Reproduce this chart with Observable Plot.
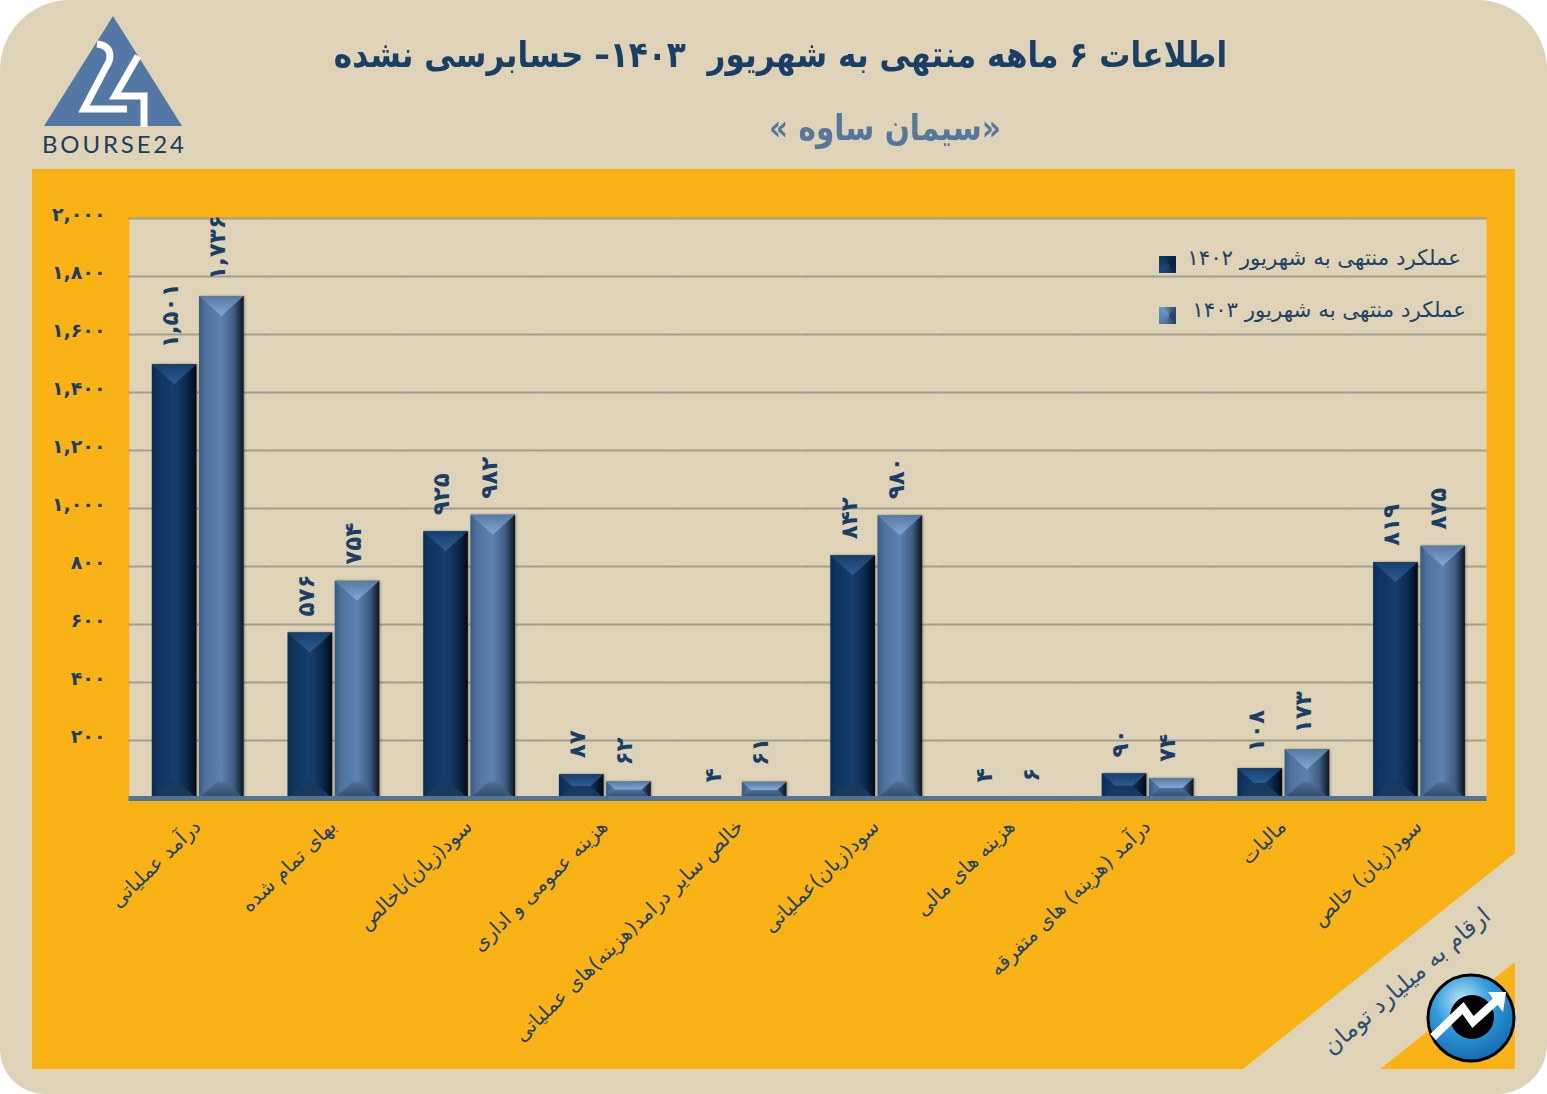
<!DOCTYPE html>
<html lang="fa"><head><meta charset="utf-8">
<script src="https://cdn.jsdelivr.net/npm/d3@7"></script>
<script src="https://cdn.jsdelivr.net/npm/@observablehq/plot@0.6"></script>
<style>
html,body{margin:0;padding:0;background:#fff;}
#page{position:relative;width:1547px;height:1094px;overflow:hidden;background:#DFD3B7;border-radius:70px 70px 50px 45px;font-family:"DejaVu Sans",sans-serif;}
#deco,#chart svg{position:absolute;left:0;top:0;}
.t{position:absolute;white-space:pre;direction:rtl;}
#title{left:0;top:34px;width:1561px;text-align:center;font-weight:bold;font-size:36px;color:#193F66;transform:scaleX(.865);transform-origin:780px 0;}
#sub{left:0;top:107px;width:1770px;text-align:center;font-weight:bold;font-size:36px;color:#55779C;transform:scaleX(.82);transform-origin:885px 0;}
.lg{font-size:21.3px;color:#1E4266;}
.sw{position:absolute;width:17px;height:17px;left:1159px;}
</style></head><body>
<div id="page">
<svg id="deco" width="1547" height="1094" xmlns="http://www.w3.org/2000/svg">
  <defs>
    <radialGradient id="ball" cx="40%" cy="30%" r="75%"><stop offset="0" stop-color="#BFE6F7"/><stop offset=".45" stop-color="#2E9BDC"/><stop offset="1" stop-color="#1467AE"/></radialGradient>
  </defs>
  <polygon points="32,169 1515,169 1515,853 1243,1069 32,1069" fill="#F9B216"/>
  <polygon points="1515,962 1515,1069 1380,1069" fill="#F9B216"/>
  <polygon points="113,16 182,126 44,126" fill="#5378A6"/>
  <path d="M97,44 C114,46 111,60 106,67 L84,109 L127,109" fill="none" stroke="#fff" stroke-width="7"/>
  <path d="M138,56 L115,96 L144,96 L144,127" fill="none" stroke="#fff" stroke-width="7"/>
  <text x="42" y="153" font-family="Lato" font-size="24" fill="#1C3D5E" textLength="142">BOURSE24</text>
  <circle cx="1471" cy="1018" r="43" fill="url(#ball)" stroke="#000" stroke-width="3"/>
  <circle cx="1472" cy="1017" r="22" fill="#000"/>
  <path d="M1433,1037 L1463,1008 L1473,1022 L1497,1000" fill="none" stroke="#fff" stroke-width="8"/>
  <polygon points="1488,992 1506,992 1503,1012" fill="#fff"/>
  <text transform="translate(1492,918) rotate(-40.6)" text-anchor="start" direction="rtl" font-family="DejaVu Sans" font-size="23.5" fill="#2B4F72" id="unit"></text>
</svg>
<div id="chart"></div>
<div class="t" id="title"></div>
<div class="t" id="sub"></div>
<div class="sw" style="top:256px;background:conic-gradient(from -45deg at 60% 50%,#0f3560,#08203c 25%,#0a2240 50%,#1a4a7e 75%,#0f3560)"></div>
<div class="sw" style="top:307px;background:conic-gradient(from -45deg at 60% 50%,#6E94C4,#2e4a6c 25%,#2c4463 50%,#557CAA 75%,#6E94C4)"></div>
<div class="t lg" id="lg1" style="right:86px;top:245px"></div>
<div class="t lg" id="lg2" style="right:81px;top:297px"></div>
</div>
<script>
const titleText = "اطلاعات ۶ ماهه منتهی به شهریور  ۱۴۰۳– حسابرسی نشده";
const subtitleText = "«سیمان ساوه »";
const unitText = "ارقام به میلیارد تومان";
const categories = ["درآمد عملیاتی","بهای تمام شده","سود(زیان)ناخالص","هزینه عمومی و اداری","خالص سایر درامد(هزینه)های عملیاتی","سود(زیان)عملیاتی","هزینه های مالی","درآمد (هزینه) های متفرقه","مالیات","سود(زیان) خالص"];
const years = ["1402","1403"];
const legendLabels = ["عملکرد منتهی به شهریور ۱۴۰۲","عملکرد منتهی به شهریور ۱۴۰۳"];
const values1402 = [1501,576,925,87,4,842,4,90,108,819];
const values1403 = [1736,754,982,62,61,980,6,74,173,875];
const yTicks = [200,400,600,800,1000,1200,1400,1600,1800,2000];

document.getElementById("title").textContent = titleText;
document.getElementById("sub").textContent = subtitleText;
document.getElementById("unit").textContent = unitText;
document.getElementById("lg1").textContent = legendLabels[0];
document.getElementById("lg2").textContent = legendLabels[1];

const fa = n => d3.format(",")(n).replace(/\d/g, c => "۰۱۲۳۴۵۶۷۸۹"[c]);
const rows1402 = categories.map((cat,i)=>({cat,year:"1402",value:values1402[i]}));
const rows1403 = categories.map((cat,i)=>({cat,year:"1403",value:values1403[i]}));
const rows = rows1402.concat(rows1403);

const NAVY = "#193F66";
const TOP_INSET = 1.5;
const defs = () => d3.create("svg:defs").html(`
  <linearGradient id="bar1402"><stop offset="0" stop-color="#0C2A4E"/><stop offset=".12" stop-color="#0E3460"/><stop offset=".5" stop-color="#163F6E"/><stop offset=".78" stop-color="#0C2A4C"/><stop offset="1" stop-color="#030A14"/></linearGradient>
  <linearGradient id="bar1403"><stop offset="0" stop-color="#3C5A80"/><stop offset=".15" stop-color="#4F729D"/><stop offset=".5" stop-color="#5E83B0"/><stop offset=".78" stop-color="#3F5D82"/><stop offset="1" stop-color="#0B1522"/></linearGradient>
  <linearGradient id="top1402" x1="0" y1="0" x2="0" y2="1"><stop offset="0" stop-color="#163E6C"/><stop offset="1" stop-color="#2C5D94"/></linearGradient>
  <linearGradient id="top1403" x1="0" y1="0" x2="0" y2="1"><stop offset="0" stop-color="#57799F"/><stop offset="1" stop-color="#82A8DC"/></linearGradient>
  <linearGradient id="bot1402" x1="0" y1="0" x2="0" y2="1"><stop offset="0" stop-color="#153A64"/><stop offset="1" stop-color="#20385A"/></linearGradient>
  <linearGradient id="bot1403" x1="0" y1="0" x2="0" y2="1"><stop offset="0" stop-color="#4D6F99"/><stop offset="1" stop-color="#33496A"/></linearGradient>
`).node();

function bevel(color) {
  return function(index, scales, values, dim, ctx, next) {
    const g = next(index, scales, values, dim, ctx);
    const bw = typeof scales.x.bandwidth === "function" ? scales.x.bandwidth() : scales.x.bandwidth;
    const ns = "http://www.w3.org/2000/svg";
    for (const i of index) {
      const x0 = values.x[i], x1 = x0 + bw;
      const top = Math.min(values.y1[i], values.y2[i]) + TOP_INSET, bot = Math.max(values.y1[i], values.y2[i]);
      const h = bot - top;
      if (h < 3) continue;
      const r = (bw/2)/20;
      const bt = Math.min(20, h/2), bb = Math.min(16, h/2);
      const poly = (pts, fill) => { const p = document.createElementNS(ns,"polygon"); p.setAttribute("points", pts.map(q=>q.join(",")).join(" ")); p.setAttribute("fill", fill); g.appendChild(p); };
      const it = bt*r, ib = bb*r;
      poly([[x0,top],[x1,top],[x1-it,top+bt],[x0+it,top+bt]], `url(#top${color})`);
      poly([[x0,bot],[x1,bot],[x1-ib,bot-bb],[x0+ib,bot-bb]], `url(#bot${color})`);
    }
    g.style.filter = "drop-shadow(1px 0 1px rgba(0,0,0,.35))";
    return g;
  };
}

const plot = Plot.plot({
  width:1547, height:1094,
  marginLeft:129, marginRight:61, marginTop:218, marginBottom:296,
  style:{background:"transparent",fontFamily:"DejaVu Sans",overflow:"visible"},
  fx:{domain:categories,padding:0,round:false,label:null},
  x:{domain:years,paddingInner:2.5/47,paddingOuter:.465,align:.52,round:false,axis:null},
  y:{domain:[0,2000],label:null},
  marks:[
    defs,
    Plot.frame({fill:"#DFD3B7",stroke:null,facet:"super"}),
    Plot.ruleY(yTicks,{stroke:"#A39E8E",strokeWidth:2,insetLeft:-.5,insetRight:-.5}),
    Plot.barY(rows1402,{fx:"cat",x:"year",y:"value",insetTop:TOP_INSET,fill:"url(#bar1402)",render:bevel("1402")}),
    Plot.barY(rows1403,{fx:"cat",x:"year",y:"value",insetTop:TOP_INSET,fill:"url(#bar1403)",render:bevel("1403")}),
    Plot.ruleY([0],{stroke:"#53749A",strokeWidth:5,insetLeft:-.5,insetRight:-.5}),
    Plot.text(rows,{fx:"cat",x:"year",y:"value",text:d=>fa(d.value),rotate:-90,textAnchor:"start",dy:-15,dx:-4,fontSize:23,fontWeight:"bold",fill:NAVY}),
    Plot.axisY({ticks:yTicks,tickSize:0,tickPadding:24,tickFormat:fa,label:null,fontSize:19,fontWeight:"bold",fill:NAVY,dy:-4}),
    Plot.axisFx({anchor:"bottom",tickSize:0,tickRotate:-44,label:null,fontSize:20,fill:"#1F4268",textAnchor:"end",dx:0,dy:13})
  ]
});
document.getElementById("chart").appendChild(plot);
</script>
</body></html>
